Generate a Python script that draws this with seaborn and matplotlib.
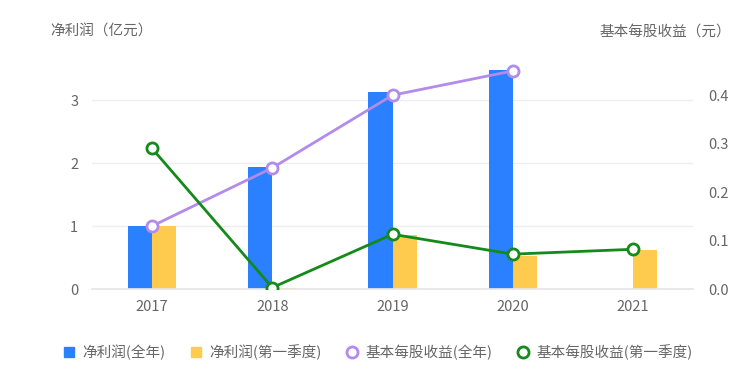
import matplotlib
matplotlib.use('Agg')
import numpy as np
import pandas as pd
import matplotlib.pyplot as plt
import seaborn as sns
from matplotlib.lines import Line2D

# datos
anios = ['2017', '2018', '2019', '2020', '2021']
beneficio_anual = [1.00, 1.93, 3.12, 3.48, np.nan]
beneficio_q1 = [1.00, 0.01, 0.86, 0.52, 0.62]
bpa_anual = [0.13, 0.25, 0.40, 0.45, np.nan]
bpa_q1 = [0.29, 0.003, 0.113, 0.072, 0.082]

serie_bar = ['净利润(全年)', '净利润(第一季度)']
serie_lin = ['基本每股收益(全年)', '基本每股收益(第一季度)']

azul = '#2A80FF'
amarillo = '#FFCB4F'
morado = '#B38BEB'
verde = '#138A1A'
gris = '#666666'

sns.set_theme(style="white")
plt.rcParams['font.family'] = ['Noto Sans CJK SC', 'DejaVu Sans']

df_bar = pd.DataFrame({
    'anio': anios * 2,
    'valor': beneficio_anual + beneficio_q1,
    'serie': [serie_bar[0]] * len(anios) + [serie_bar[1]] * len(anios),
})

fig = plt.figure(figsize=(7.5, 3.72), dpi=100)
ax = fig.add_axes([0.1227, 0.223, 0.8013, 0.6775])

sns.barplot(data=df_bar, x='anio', y='valor', hue='serie', order=anios,
            hue_order=serie_bar, palette=[azul, amarillo], width=0.4,
            saturation=1, linewidth=0, ax=ax, legend=False)
ax.set_ylim(0, 4)
ax.set_yticks([0, 1, 2, 3])
ax.set_xlim(-0.5, len(anios) - 0.5)
ax.grid(axis='y', color='#EEEEEE', linewidth=1)
ax.set_axisbelow(True)
for s in ['top', 'left', 'right']:
    ax.spines[s].set_visible(False)
ax.spines['bottom'].set_color('#E6E6E6')
ax.set_xlabel('')
ax.set_ylabel('')
ax.tick_params(axis='both', length=0, labelsize=10.5, labelcolor=gris)
ax.tick_params(axis='y', pad=10)
ax.tick_params(axis='x', pad=8)

ax2 = ax.twinx()
x_pos = np.arange(len(anios))
sns.lineplot(x=x_pos, y=bpa_anual, color=morado, linewidth=2, marker='o',
             markersize=8, markerfacecolor='white', markeredgecolor=morado,
             markeredgewidth=2, ax=ax2)
sns.lineplot(x=x_pos, y=bpa_q1, color=verde, linewidth=2, marker='o',
             markersize=8, markerfacecolor='white', markeredgecolor=verde,
             markeredgewidth=2, ax=ax2)
ax2.set_ylim(0, 0.52)
ax2.set_yticks([0.0, 0.1, 0.2, 0.3, 0.4])
ax2.set_yticklabels(['0.0', '0.1', '0.2', '0.3', '0.4'])
ax2.set_xlim(-0.5, len(anios) - 0.5)
for s in ax2.spines.values():
    s.set_visible(False)
ax2.tick_params(axis='y', length=0, labelsize=10.5, labelcolor=gris, pad=11)

fig.text(0.067, 0.915, '净利润（亿元）', fontsize=10.5, color=gris, ha='left', va='center')
fig.text(0.975, 0.915, '基本每股收益（元）', fontsize=10.5, color=gris, ha='right', va='center')

handles = [
    Line2D([], [], linestyle='', marker='s', markersize=7.5, color=azul),
    Line2D([], [], linestyle='', marker='s', markersize=7.5, color=amarillo),
    Line2D([], [], linestyle='', marker='o', markersize=8, markerfacecolor='white',
           markeredgecolor=morado, markeredgewidth=2),
    Line2D([], [], linestyle='', marker='o', markersize=8, markerfacecolor='white',
           markeredgecolor=verde, markeredgewidth=2),
]
fig.legend(handles, serie_bar + serie_lin, loc='center', bbox_to_anchor=(0.503, 0.054),
           ncol=4, frameon=False, fontsize=10.5, handlelength=1.0, handletextpad=0.4,
           columnspacing=1.6, labelcolor=gris)

plt.savefig('out.png', dpi=100)
plt.close()
